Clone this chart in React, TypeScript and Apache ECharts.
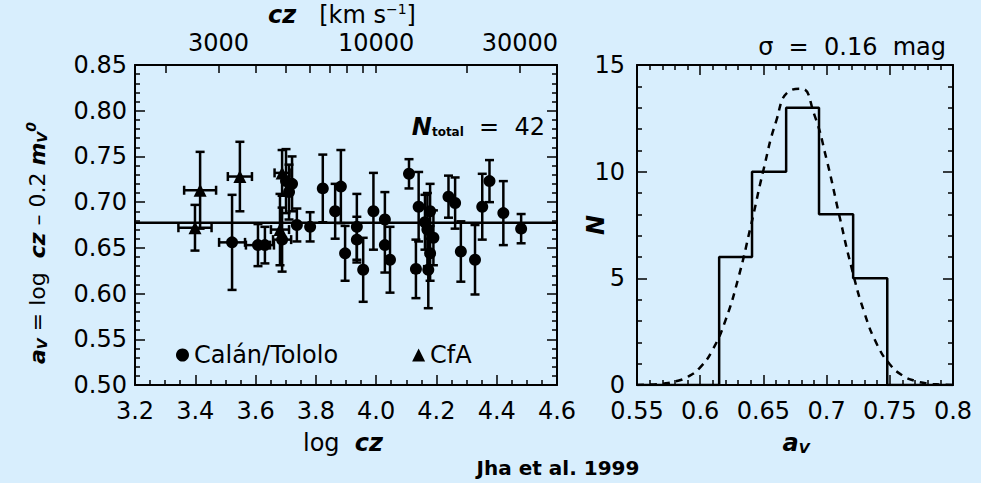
import React, { useEffect, useRef } from 'react';
import * as echarts from 'echarts';

// ---- Left panel data: log cz, a_V, error in a_V, error in log cz ----
const calanLogCz = [3.522, 3.608, 3.631, 3.688, 3.701, 3.721, 3.737, 3.781, 3.823, 3.864, 3.883, 3.897, 3.936, 3.936, 3.957, 3.991, 4.029, 4.029, 4.046, 4.109, 4.132, 4.141, 4.170, 4.173, 4.179, 4.190, 4.179, 4.240, 4.262, 4.281, 4.328, 4.352, 4.376, 4.422, 4.481, 3.711, 4.162];
const calanAV = [0.656, 0.653, 0.653, 0.659, 0.723, 0.720, 0.675, 0.673, 0.715, 0.690, 0.717, 0.644, 0.673, 0.659, 0.626, 0.690, 0.681, 0.653, 0.637, 0.731, 0.627, 0.695, 0.670, 0.626, 0.690, 0.661, 0.644, 0.706, 0.699, 0.646, 0.637, 0.695, 0.723, 0.688, 0.671, 0.711, 0.678];
const calanErr = [0.052, 0.023, 0.020, 0.035, 0.035, 0.030, 0.018, 0.016, 0.037, 0.030, 0.040, 0.030, 0.036, 0.025, 0.035, 0.042, 0.030, 0.030, 0.036, 0.016, 0.032, 0.038, 0.040, 0.042, 0.030, 0.030, 0.030, 0.023, 0.028, 0.033, 0.038, 0.036, 0.023, 0.035, 0.016, 0.030, 0.030];
const calanXErr = [0.043, 0.040, 0.030, 0.030, 0, 0, 0, 0, 0, 0, 0, 0, 0, 0, 0, 0, 0, 0, 0, 0, 0, 0, 0, 0, 0, 0, 0, 0, 0, 0, 0, 0, 0, 0, 0, 0, 0];

const cfaLogCz = [3.416, 3.399, 3.548, 3.681, 3.688];
const cfaAV = [0.713, 0.672, 0.728, 0.670, 0.732];
const cfaErr = [0.042, 0.025, 0.038, 0.039, 0.025];
const cfaXErr = [0.053, 0.055, 0.040, 0.030, 0.025];

const meanAV = 0.6775;
const nTotal = 42;

// top axis (cz in km/s)
const czTicks = [2000, 3000, 4000, 5000, 6000, 7000, 8000, 9000, 10000, 20000, 30000];
const czLabels = [3000, 10000, 30000];

// ---- Right panel: histogram of a_V ----
const binEdges = [0.615, 0.641, 0.668, 0.694, 0.721, 0.748];
const binCounts = [6, 10, 13, 8, 5];
const gaussX = [0.55, 0.56, 0.57, 0.58, 0.59, 0.60, 0.61, 0.62, 0.63, 0.64, 0.65, 0.66, 0.67, 0.68, 0.69, 0.70, 0.71, 0.72, 0.73, 0.74, 0.75, 0.76, 0.77, 0.78, 0.79, 0.80];
const gaussN = [0.0, 0.02, 0.06, 0.16, 0.38, 0.83, 1.67, 3.03, 4.98, 7.44, 10.07, 12.35, 13.76, 13.89, 12.72, 10.57, 7.96, 5.44, 3.37, 1.89, 0.97, 0.45, 0.19, 0.07, 0.02, 0.0];

const FONT = 'DejaVu Sans';
const FS = 24;
const BG = '#d8eefd';
const TICK_STYLE = { color: '#000', width: 1.5 };

function axisBase(extra: any) {
  return {
    type: 'value',
    axisLine: { show: true, onZero: false, lineStyle: { color: '#000', width: 2 } },
    axisTick: { show: true, inside: true, length: 10, lineStyle: TICK_STYLE },
    minorTick: { show: true, length: 5, lineStyle: TICK_STYLE },
    splitLine: { show: false },
    axisLabel: { color: '#000', fontFamily: FONT, fontSize: FS, margin: 10 },
    ...extra,
  };
}

function errorBars(params: any, api: any) {
  const x = api.value(0);
  const y = api.value(1);
  const ye = api.value(2);
  const xe = api.value(3);
  const c = 4.5;
  const style = { stroke: '#000', lineWidth: 2.5 };
  const top = api.coord([x, y + ye]);
  const bot = api.coord([x, y - ye]);
  const children: any[] = [
    { type: 'line', shape: { x1: top[0], y1: top[1], x2: bot[0], y2: bot[1] }, style },
    { type: 'line', shape: { x1: top[0] - c, y1: top[1], x2: top[0] + c, y2: top[1] }, style },
    { type: 'line', shape: { x1: bot[0] - c, y1: bot[1], x2: bot[0] + c, y2: bot[1] }, style },
  ];
  if (xe > 0) {
    const l = api.coord([x - xe, y]);
    const r = api.coord([x + xe, y]);
    children.push(
      { type: 'line', shape: { x1: l[0], y1: l[1], x2: r[0], y2: r[1] }, style },
      { type: 'line', shape: { x1: l[0], y1: l[1] - c, x2: l[0], y2: l[1] + c }, style },
      { type: 'line', shape: { x1: r[0], y1: r[1] - c, x2: r[0], y2: r[1] + c }, style },
    );
  }
  return { type: 'group', children };
}

export default function App() {
  const ref = useRef<HTMLDivElement>(null);
  useEffect(() => {
    if (!ref.current) return;
    const chart = echarts.init(ref.current, undefined, { renderer: 'svg' });

    const calanPts = calanLogCz.map((x, i) => [x, calanAV[i]]);
    const cfaPts = cfaLogCz.map((x, i) => [x, cfaAV[i]]);
    const errData = [
      ...calanLogCz.map((x, i) => [x, calanAV[i], calanErr[i], calanXErr[i]]),
      ...cfaLogCz.map((x, i) => [x, cfaAV[i], cfaErr[i], cfaXErr[i]]),
    ];

    const histPts: number[][] = [[0.55, 0]];
    binCounts.forEach((n, i) => {
      histPts.push([binEdges[i], i === 0 ? 0 : binCounts[i - 1]]);
      histPts.push([binEdges[i], n]);
    });
    histPts.push([binEdges[binEdges.length - 1], binCounts[binCounts.length - 1]]);
    histPts.push([binEdges[binEdges.length - 1], 0]);
    histPts.push([0.8, 0]);

    const gaussPts = gaussX.map((x, i) => [x, gaussN[i]]);
    const bi = { fontFamily: FONT, fontSize: FS, fontWeight: 'bold', fontStyle: 'italic' };

    const option: any = {
      animation: false,
      backgroundColor: BG,
      textStyle: { fontFamily: FONT, color: '#000' },
      grid: [
        { left: 135, top: 65, width: 422, height: 320 },
        { left: 637, top: 65, width: 316, height: 320 },
      ],
      xAxis: [
        axisBase({
          gridIndex: 0, position: 'bottom', min: 3.2, max: 4.6, interval: 0.2,
          minorTick: { show: true, splitNumber: 4, length: 5, lineStyle: TICK_STYLE },
          axisLabel: { color: '#000', fontFamily: FONT, fontSize: FS, margin: 14, formatter: (v: number) => v.toFixed(1) },
        }),
        axisBase({
          gridIndex: 0, position: 'top', min: 3.2, max: 4.6,
          axisTick: { show: true, inside: true, length: 8, customValues: czTicks.map((c) => Math.log10(c)), lineStyle: TICK_STYLE },
          minorTick: { show: false },
          axisLabel: {
            color: '#000', fontFamily: FONT, fontSize: FS, margin: 10,
            customValues: czLabels.map((c) => Math.log10(c)),
            formatter: (v: number) => String(Math.round(Math.pow(10, v) / 1000) * 1000),
          },
        }),
        axisBase({
          gridIndex: 1, position: 'bottom', min: 0.55, max: 0.8, interval: 0.05,
          minorTick: { show: true, splitNumber: 5, length: 5, lineStyle: TICK_STYLE },
          axisLabel: { color: '#000', fontFamily: FONT, fontSize: FS, margin: 14, formatter: (v: number) => String(parseFloat(v.toFixed(2))) },
        }),
        axisBase({
          gridIndex: 1, position: 'top', min: 0.55, max: 0.8, interval: 0.05,
          minorTick: { show: true, splitNumber: 5, length: 5, lineStyle: TICK_STYLE },
          axisLabel: { show: false },
        }),
      ],
      yAxis: [
        axisBase({
          gridIndex: 0, position: 'left', min: 0.5, max: 0.85, interval: 0.05,
          minorTick: { show: true, splitNumber: 5, length: 5, lineStyle: TICK_STYLE },
          axisLabel: { color: '#000', fontFamily: FONT, fontSize: FS, margin: 8, formatter: (v: number) => v.toFixed(2) },
        }),
        axisBase({
          gridIndex: 0, position: 'right', min: 0.5, max: 0.85, interval: 0.05,
          minorTick: { show: true, splitNumber: 5, length: 5, lineStyle: TICK_STYLE },
          axisLabel: { show: false },
        }),
        axisBase({
          gridIndex: 1, position: 'left', min: 0, max: 15, interval: 5,
          minorTick: { show: true, splitNumber: 5, length: 5, lineStyle: TICK_STYLE },
          axisLabel: { color: '#000', fontFamily: FONT, fontSize: FS, margin: 12 },
        }),
        axisBase({
          gridIndex: 1, position: 'right', min: 0, max: 15, interval: 5,
          minorTick: { show: true, splitNumber: 5, length: 5, lineStyle: TICK_STYLE },
          axisLabel: { show: false },
        }),
      ],
      legend: {
        left: 171, top: 338, itemGap: 74, itemWidth: 13, itemHeight: 13,
        textStyle: { fontFamily: FONT, fontSize: FS, color: '#000' },
        data: [
          { name: 'Calán/Tololo', icon: 'circle' },
          { name: 'CfA', icon: 'triangle' },
        ],
      },
      series: [
        {
          type: 'line', name: 'mean', xAxisIndex: 0, yAxisIndex: 0, symbol: 'none',
          data: [[3.2, meanAV], [4.6, meanAV]],
          lineStyle: { color: '#000', width: 2.5 }, silent: true,
        },
        {
          type: 'custom', name: 'errors', xAxisIndex: 0, yAxisIndex: 0,
          renderItem: errorBars, encode: { x: 0, y: 1 }, data: errData, silent: true,
        },
        {
          type: 'scatter', name: 'Calán/Tololo', xAxisIndex: 0, yAxisIndex: 0,
          symbol: 'circle', symbolSize: 12, itemStyle: { color: '#000', opacity: 1 }, data: calanPts,
        },
        {
          type: 'scatter', name: 'CfA', xAxisIndex: 0, yAxisIndex: 0,
          symbol: 'triangle', symbolSize: 13, itemStyle: { color: '#000', opacity: 1 }, data: cfaPts,
        },
        {
          type: 'line', name: 'hist', xAxisIndex: 2, yAxisIndex: 2, symbol: 'none',
          data: histPts, lineStyle: { color: '#000', width: 2.5 },
        },
        {
          type: 'line', name: 'gauss', xAxisIndex: 2, yAxisIndex: 2, symbol: 'none', smooth: true,
          data: gaussPts, lineStyle: { color: '#000', width: 2.5, type: [7, 6] },
        },
      ],
      graphic: [
        {
          type: 'text', x: 342, y: 15,
          style: {
            text: '{b|cz}   [km s{sup|−1}]', fontFamily: FONT, fontSize: FS, fill: '#000',
            align: 'center', verticalAlign: 'middle',
            rich: {
              b: bi,
              sup: { fontFamily: FONT, fontSize: 14, padding: [0, 0, 12, 0] },
            },
          },
        },
        {
          type: 'text', x: 37, y: 243, rotation: Math.PI / 2,
          style: {
            text: '{ai|a}{sub|V} = log  {b|cz} – 0.2 {ai|m}{sub|V}{sup|0}', fontFamily: FONT, fontSize: 22, fill: '#000',
            align: 'center', verticalAlign: 'middle',
            rich: {
              ai: { ...bi, fontSize: 22 },
              b: { ...bi, fontSize: 22 },
              sub: { fontFamily: FONT, fontSize: 14, fontWeight: 'bold', fontStyle: 'italic', padding: [10, 0, 0, 0] },
              sup: { fontFamily: FONT, fontSize: 14, fontWeight: 'bold', fontStyle: 'italic', padding: [0, 0, 12, 0] },
            },
          },
        },
        {
          type: 'text', x: 545, y: 127,
          style: {
            text: '{ni|N}{sub|total}  =  ' + nTotal, fontFamily: FONT, fontSize: FS, fill: '#000',
            align: 'right', verticalAlign: 'middle',
            rich: {
              ni: bi,
              sub: { fontFamily: FONT, fontSize: 12, fontWeight: 'bold', padding: [10, 0, 0, 0] },
            },
          },
        },
        {
          type: 'text', x: 343, y: 443,
          style: {
            text: 'log  {b|cz}', fontFamily: FONT, fontSize: FS, fill: '#000', align: 'center', verticalAlign: 'middle',
            rich: { b: bi },
          },
        },
        {
          type: 'text', x: 946, y: 47,
          style: { text: 'σ  =  0.16  mag', fontFamily: FONT, fontSize: FS, fill: '#000', align: 'right', verticalAlign: 'middle' },
        },
        {
          type: 'text', x: 596, y: 225, rotation: Math.PI / 2,
          style: { text: 'N', ...bi, fill: '#000', align: 'center', verticalAlign: 'middle' },
        },
        {
          type: 'text', x: 796, y: 443,
          style: {
            text: '{ai|a}{sub|V}', fontFamily: FONT, fontSize: FS, fill: '#000', align: 'center', verticalAlign: 'middle',
            rich: {
              ai: bi,
              sub: { fontFamily: FONT, fontSize: 14, fontWeight: 'bold', fontStyle: 'italic', padding: [10, 0, 0, 0] },
            },
          },
        },
        {
          type: 'text', x: 558, y: 468,
          style: { text: 'Jha et al. 1999', fontFamily: FONT, fontSize: 20, fontWeight: 'bold', fill: '#000', align: 'center', verticalAlign: 'middle' },
        },
      ],
    };
    chart.setOption(option);
    return () => chart.dispose();
  }, []);
  return <div ref={ref} style={{ position: 'fixed', left: 0, top: 0, width: 981, height: 483 }} />;
}
